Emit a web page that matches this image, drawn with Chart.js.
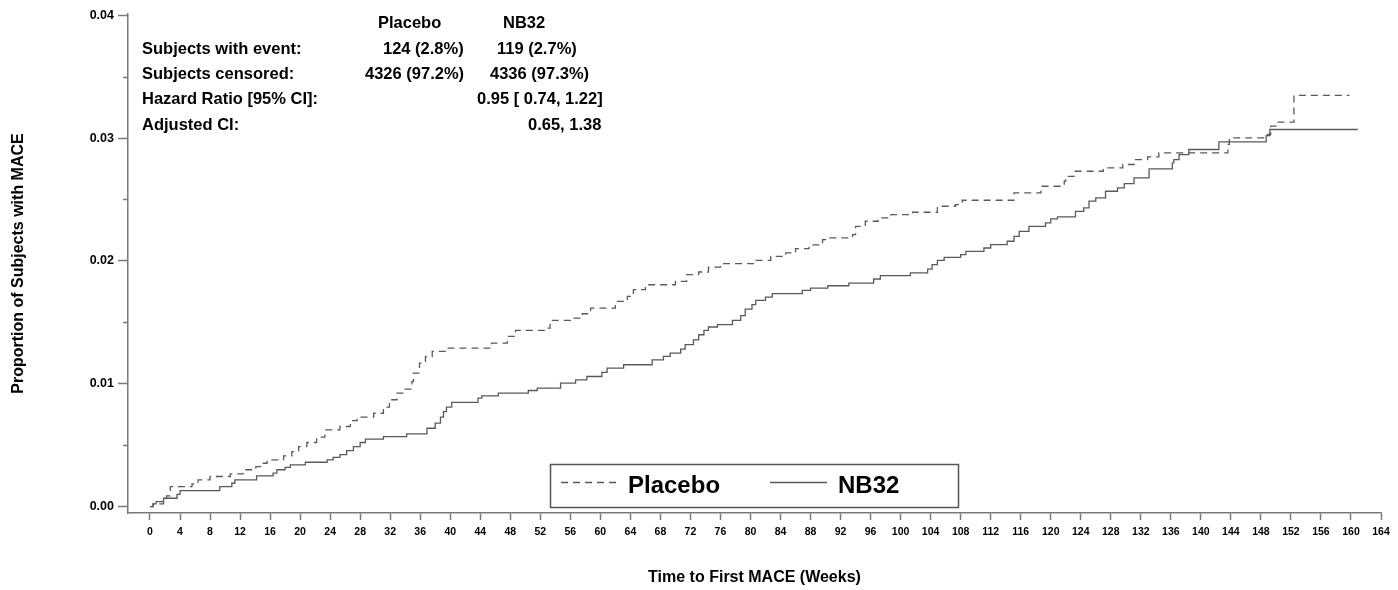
<!DOCTYPE html>
<html>
<head>
<meta charset="utf-8">
<script src="https://cdn.jsdelivr.net/npm/chart.js@4.4.1/dist/chart.umd.min.js"></script>
<style>
  html, body { margin: 0; padding: 0; background: #ffffff; }
  #wrap { width: 1398px; height: 590px; }
</style>
</head>
<body>
<div id="wrap"><canvas id="c" width="1398" height="590"></canvas></div>
<script>
// ---- Data ----
const placeboWeeks = [0,0.4,1.8,2.2,2.7,5.6,6.4,8.0,10.7,12.4,14.1,14.7,15.6,17.8,18.9,19.8,20.9,22.2,23.3,25.3,26.7,27.6,29.8,31.1,31.9,32.9,34.0,34.9,35.1,35.9,36.7,37.6,39.6,45.5,47.6,48.7,52.7,53.3,56.0,57.6,58.7,62.0,63.6,64.4,66.0,70.0,71.5,73.1,74.4,76.0,80.7,82.7,84.7,86.0,87.8,89.6,90.4,93.6,94.0,95.3,97.0,98.7,101.6,104.9,107.3,108.2,115.1,118.7,121.8,122.0,123.1,127.0,129.6,131.1,132.9,134.4,143.6,143.8,148.9,149.3,150.0,152.4,159.8];
const placeboValues = [0,0.00022,0.00054,0.00087,0.00163,0.00185,0.00217,0.00245,0.00266,0.0030,0.00326,0.00353,0.0038,0.00413,0.00448,0.00489,0.00522,0.00565,0.00625,0.00652,0.0070,0.00728,0.0076,0.0081,0.0087,0.00924,0.00956,0.0102,0.01087,0.01168,0.01222,0.01263,0.0129,0.01331,0.01385,0.01434,0.01453,0.01516,0.01535,0.0157,0.01616,0.0167,0.01711,0.01766,0.01806,0.01834,0.01888,0.0191,0.0195,0.01978,0.02005,0.02037,0.02065,0.021,0.0213,0.02173,0.02187,0.02214,0.02282,0.02323,0.0235,0.02377,0.02396,0.02445,0.02459,0.02494,0.02554,0.02608,0.02649,0.02689,0.0273,0.02757,0.02785,0.02825,0.02847,0.0288,0.02948,0.03002,0.03029,0.03097,0.0313,0.03347,0.03347];

const nb32Weeks = [0,0.4,0.8,1.8,3.6,4.0,9.3,10.9,11.3,14.2,16.4,16.9,18.0,18.7,20.7,23.6,24.4,25.3,26.2,27.1,28.0,28.7,31.1,34.2,36.9,38.0,38.7,39.1,39.5,40.2,43.7,44.2,46.4,50.4,51.6,54.7,56.7,58.2,60.2,60.9,63.1,66.9,68.4,69.3,70.7,71.3,72.4,73.1,73.8,74.4,75.6,77.6,78.7,79.3,80.2,80.7,82.0,82.9,86.9,88.0,90.3,93.1,96.4,97.3,101.3,103.6,104.2,104.9,105.8,108.0,108.7,111.1,112.0,114.2,115.1,115.8,117.1,119.3,120.0,120.9,123.3,124.4,125.1,126.0,127.3,128.9,129.8,131.1,133.1,136.2,136.4,137.1,138.4,142.4,148.7,149.2,160.9];
const nb32Values = [0,0.00022,0.0004,0.00068,0.001,0.0013,0.00163,0.0019,0.00217,0.0025,0.00272,0.0030,0.0032,0.0034,0.00361,0.0038,0.0040,0.00424,0.00456,0.00489,0.00522,0.00549,0.0057,0.00592,0.00638,0.00679,0.00728,0.00774,0.0081,0.00848,0.00883,0.00902,0.00924,0.00945,0.00964,0.01005,0.01032,0.01059,0.01092,0.01127,0.01155,0.01195,0.01223,0.0125,0.01282,0.01318,0.01358,0.01399,0.01434,0.01462,0.01481,0.01516,0.01554,0.01608,0.01644,0.01679,0.01706,0.01733,0.0176,0.01779,0.01798,0.0182,0.01853,0.0188,0.01902,0.01934,0.0197,0.02005,0.02029,0.02051,0.02078,0.02105,0.02133,0.0216,0.022,0.02241,0.02282,0.02309,0.02342,0.02358,0.02404,0.02431,0.02486,0.02513,0.02567,0.02594,0.0263,0.02676,0.02749,0.02798,0.02825,0.02866,0.02907,0.02969,0.0302,0.0307,0.0307];

const seriesNames = ['Placebo', 'NB32'];
const xTickValues = [0,4,8,12,16,20,24,28,32,36,40,44,48,52,56,60,64,68,72,76,80,84,88,92,96,100,104,108,112,116,120,124,128,132,136,140,144,148,152,156,160,164];
const yTickValues = [0,0.005,0.01,0.015,0.02,0.025,0.03,0.035,0.04];
const yMajorTicks = [0,0.01,0.02,0.03,0.04];

const statsHeader = ['Placebo', 'NB32'];
const statsLabels = ['Subjects with event:', 'Subjects censored:', 'Hazard Ratio [95% CI]:', 'Adjusted CI:'];
const statsPlacebo = ['124 (2.8%)', '4326 (97.2%)', '', ''];
const statsNB32 = ['119 (2.7%)', '4336 (97.3%)', '0.95 [ 0.74, 1.22]', '0.65, 1.38'];

const xTitle = 'Time to First MACE (Weeks)';
const yTitle = 'Proportion of Subjects with MACE';

// ---- Styling ----
const FONT = "'Liberation Sans', Arial, Helvetica, sans-serif";
const AXIS_COLOR = '#7a7a7a';
const LINE_COLOR = '#5a5a5a';

const toPoints = (xs, ys) => xs.map((x, i) => ({ x: x, y: ys[i] }));
const isMajor = v => yMajorTicks.some(m => Math.abs(m - v) < 1e-9);

// Stats annotation block in upper-left
const statsPlugin = {
  id: 'stats',
  afterDraw(chart) {
    const ctx = chart.ctx;
    ctx.save();
    ctx.fillStyle = '#000';
    ctx.font = 'bold 16.5px ' + FONT;
    ctx.textBaseline = 'middle';
    ctx.textAlign = 'left';
    ctx.fillText(statsHeader[0], 378, 23);
    ctx.fillText(statsHeader[1], 503, 23);
    const rowY = [49, 74, 99, 125];
    const placeboX = [383, 365];
    const nbX = [497, 490, 477, 528];
    statsLabels.forEach((lab, i) => {
      ctx.fillText(lab, 142, rowY[i]);
      if (statsPlacebo[i]) ctx.fillText(statsPlacebo[i], placeboX[i], rowY[i]);
      if (statsNB32[i]) ctx.fillText(statsNB32[i], nbX[i], rowY[i]);
    });
    ctx.restore();
  }
};

// Minor y ticks (shorter)
const minorTickPlugin = {
  id: 'minorTicks',
  afterDraw(chart) {
    const ys = chart.scales.y;
    const ctx = chart.ctx;
    ctx.save();
    ctx.strokeStyle = AXIS_COLOR;
    ctx.lineWidth = 1.5;
    yTickValues.filter(v => !isMajor(v)).forEach(v => {
      const py = Math.round(ys.getPixelForValue(v)) + 0.5;
      ctx.beginPath();
      ctx.moveTo(ys.right - 5, py);
      ctx.lineTo(ys.right, py);
      ctx.stroke();
    });
    ctx.restore();
  }
};

// Boxed legend inside the plot
const boxLegendPlugin = {
  id: 'boxLegend',
  afterDraw(chart) {
    const ctx = chart.ctx;
    const ds = chart.data.datasets;
    ctx.save();
    ctx.strokeStyle = '#555';
    ctx.lineWidth = 1.5;
    ctx.strokeRect(550.5, 464.5, 408, 43);
    const items = [
      { lx0: 561, lx1: 618, tx: 628 },
      { lx0: 770, lx1: 827, tx: 838 }
    ];
    items.forEach((it, i) => {
      ctx.strokeStyle = ds[i].borderColor;
      ctx.lineWidth = ds[i].borderWidth;
      ctx.setLineDash(ds[i].borderDash || []);
      ctx.beginPath();
      ctx.moveTo(it.lx0, 482.5);
      ctx.lineTo(it.lx1, 482.5);
      ctx.stroke();
      ctx.setLineDash([]);
      ctx.fillStyle = '#000';
      ctx.font = 'bold 24px ' + FONT;
      ctx.textBaseline = 'middle';
      ctx.textAlign = 'left';
      ctx.fillText(ds[i].label, it.tx, 486);
    });
    ctx.restore();
  }
};

new Chart(document.getElementById('c'), {
  type: 'line',
  data: {
    datasets: [
      {
        label: seriesNames[0],
        data: toPoints(placeboWeeks, placeboValues),
        stepped: 'before',
        borderColor: LINE_COLOR,
        borderWidth: 1.3,
        borderDash: [7, 5],
        pointRadius: 0,
        fill: false
      },
      {
        label: seriesNames[1],
        data: toPoints(nb32Weeks, nb32Values),
        stepped: 'before',
        borderColor: LINE_COLOR,
        borderWidth: 1.3,
        pointRadius: 0,
        fill: false
      }
    ]
  },
  options: {
    responsive: false,
    animation: false,
    devicePixelRatio: 1,
    layout: { padding: { top: 14, right: 17, left: 0, bottom: 0 } },
    plugins: {
      legend: { display: false },
      tooltip: { enabled: false },
      title: { display: false }
    },
    scales: {
      x: {
        type: 'linear',
        min: -2.93,
        max: 164,
        afterBuildTicks: s => { s.ticks = xTickValues.map(v => ({ value: v })); },
        afterFit: s => { s.height = 77; },
        border: { display: true, color: AXIS_COLOR, width: 1.5 },
        grid: { drawOnChartArea: false, drawTicks: true, tickLength: 7, tickColor: AXIS_COLOR, tickWidth: 1.5 },
        ticks: {
          color: '#000',
          font: { family: FONT, size: 10.5, weight: 'bold' },
          padding: 6,
          maxRotation: 0,
          autoSkip: false,
          callback: v => String(v)
        },
        title: {
          display: true,
          text: xTitle,
          color: '#000',
          font: { family: FONT, size: 16, weight: 'bold' },
          padding: { top: 3, bottom: 3 }
        }
      },
      y: {
        type: 'linear',
        min: -0.00052,
        max: 0.0401,
        afterBuildTicks: s => { s.ticks = yTickValues.map(v => ({ value: v })); },
        afterFit: s => { s.width = 128; },
        border: { display: true, color: AXIS_COLOR, width: 1.5 },
        grid: {
          drawOnChartArea: false,
          drawTicks: true,
          tickLength: 10,
          tickWidth: 1.5,
          tickColor: c => (c.tick && isMajor(c.tick.value)) ? AXIS_COLOR : 'rgba(0,0,0,0)'
        },
        ticks: {
          color: '#000',
          font: { family: FONT, size: 12.5, weight: 'bold' },
          padding: 4,
          autoSkip: false,
          callback: v => isMajor(v) ? v.toFixed(2) : ''
        },
        title: {
          display: true,
          text: yTitle,
          color: '#000',
          font: { family: FONT, size: 16, weight: 'bold' },
          padding: { top: 9, bottom: 9 }
        }
      }
    }
  },
  plugins: [statsPlugin, minorTickPlugin, boxLegendPlugin]
});
</script>
</body>
</html>
